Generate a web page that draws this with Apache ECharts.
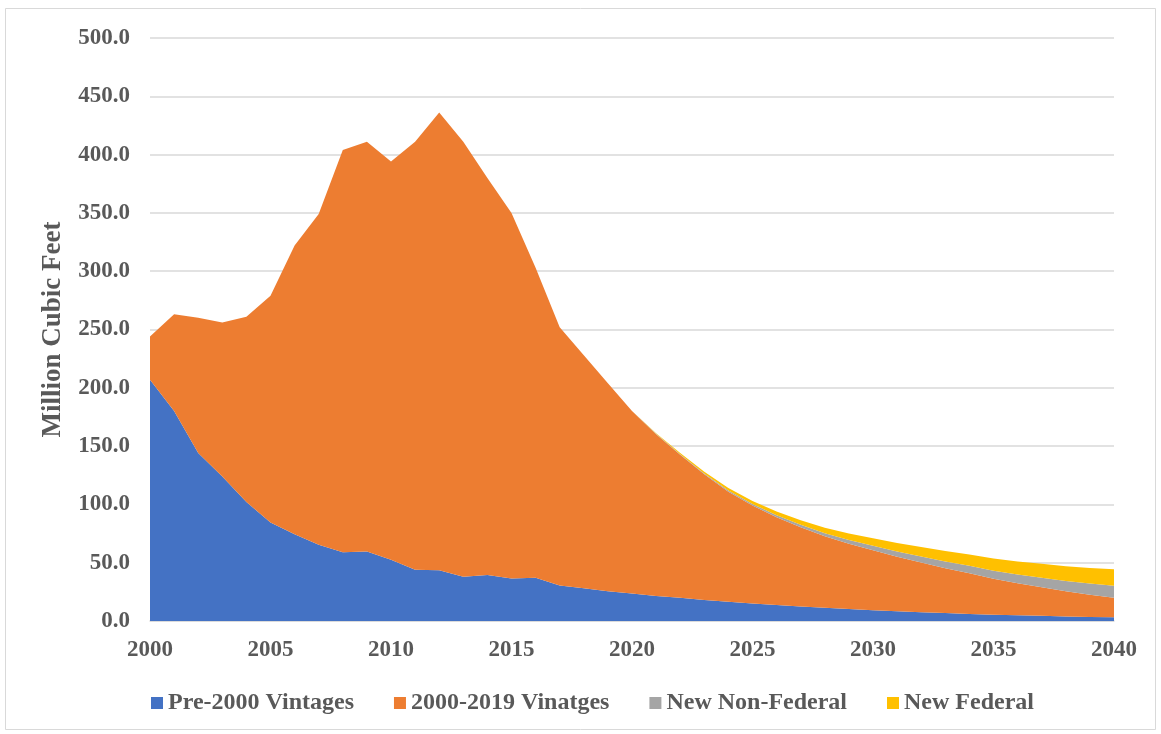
<!DOCTYPE html>
<html>
<head>
<meta charset="utf-8">
<script src="https://cdn.jsdelivr.net/npm/echarts@6/dist/echarts.min.js"></script>
<style>
  html, body { margin: 0; padding: 0; background: #ffffff; }
  #chart { width: 1161px; height: 734px; }
</style>
</head>
<body>
<div id="chart"></div>
<script>
// years on the x axis
var years = [];
for (var y = 2000; y <= 2040; y++) { years.push(String(y)); }

// stacked layers, million cubic feet
var pre2000 = [207, 180, 144, 124, 102, 84.5, 74.5, 65.5, 59, 59.5,
	52.5, 44, 43.5, 38, 39.5, 36.5, 37, 30.5, 28, 25.5,
	23.5, 21.5, 20, 18, 16.5, 15, 13.8, 12.5, 11.3, 10.2,
	9.2, 8.4, 7.6, 6.8, 6, 5.4, 4.9, 4.4, 3.9, 3.5, 3.2];
var vint2000 = [37, 83, 116, 132, 159, 194.5, 247.5, 283.5, 345, 351.5,
	341.5, 367, 392.5, 373, 340.5, 313.5, 266, 221.5, 200, 178.5,
	156.5, 138.7, 122.6, 107.8, 94.4, 84, 75.1, 67.8, 61.3, 56.1,
	51.5, 46.8, 42.6, 38.5, 35, 30.8, 27.5, 24.6, 21.6, 19, 16.8];
var newNonFed = [0, 0, 0, 0, 0, 0, 0, 0, 0, 0,
	0, 0, 0, 0, 0, 0, 0, 0, 0, 0,
	0, 0.3, 0.5, 0.8, 1.1, 1.4, 1.8, 2.2, 2.6, 3.1,
	3.8, 4.5, 5.2, 5.8, 6.3, 6.8, 7.4, 8.1, 8.9, 9.7, 10.3];
var newFed = [0, 0, 0, 0, 0, 0, 0, 0, 0, 0,
	0, 0, 0, 0, 0, 0, 0, 0, 0, 0,
	0, 0.5, 0.9, 1.4, 2, 2.6, 3.3, 4, 4.8, 5.6,
	6.5, 7.3, 8.1, 8.9, 9.7, 10.5, 11.2, 11.9, 12.6, 13.3, 14];

var seriesNames = ['Pre-2000 Vintages', '2000-2019 Vinatges', 'New Non-Federal', 'New Federal'];
var seriesColors = ['#4472C4', '#ED7D31', '#A5A5A5', '#FFC000'];
var seriesData = [pre2000, vint2000, newNonFed, newFed];

var textColor = '#595959';
var fontFam = '"Liberation Serif", "Times New Roman", serif';

var chart = echarts.init(document.getElementById('chart'));

var series = [];
for (var i = 0; i < seriesNames.length; i++) {
	series.push({
		name: seriesNames[i],
		type: 'line',
		stack: 'total',
		data: seriesData[i],
		symbol: 'none',
		lineStyle: { width: 0 },
		itemStyle: { color: seriesColors[i] },
		areaStyle: { color: seriesColors[i], opacity: 1 }
	});
}

var option = {
	animation: false,
	backgroundColor: '#ffffff',
	graphic: [{
		type: 'rect',
		shape: { x: 5.5, y: 8.5, width: 1150, height: 721 },
		style: { fill: 'none', stroke: '#d9d9d9', lineWidth: 1 },
		silent: true
	}],
	grid: {
		left: 150,
		right: 47,
		top: 38,
		bottom: 113
	},
	legend: {
		left: 151,
		top: 691,
		padding: 0,
		icon: 'rect',
		itemWidth: 12,
		itemHeight: 12,
		itemGap: 40,
		textStyle: {
			color: textColor,
			fontFamily: fontFam,
			fontWeight: 'bold',
			fontSize: 24
		},
		data: seriesNames
	},
	xAxis: {
		type: 'category',
		boundaryGap: false,
		data: years,
		axisLine: { lineStyle: { color: '#d9d9d9', width: 1.5 } },
		axisTick: { show: false },
		axisLabel: {
			interval: 4,
			margin: 18,
			color: textColor,
			fontFamily: fontFam,
			fontWeight: 'bold',
			fontSize: 23
		},
		splitLine: { show: false }
	},
	yAxis: {
		type: 'value',
		min: 0,
		max: 500,
		interval: 50,
		name: 'Million Cubic Feet',
		nameLocation: 'middle',
		nameGap: 83,
		nameTextStyle: {
			color: textColor,
			fontFamily: fontFam,
			fontWeight: 'bold',
			fontSize: 27
		},
		axisLine: { show: false },
		axisTick: { show: false },
		axisLabel: {
			margin: 20,
			color: textColor,
			fontFamily: fontFam,
			fontWeight: 'bold',
			fontSize: 23,
			formatter: function (v) { return v.toFixed(1); }
		},
		splitLine: { lineStyle: { color: '#d9d9d9', width: 1.5 } }
	},
	series: series
};

chart.setOption(option);
</script>
</body>
</html>
